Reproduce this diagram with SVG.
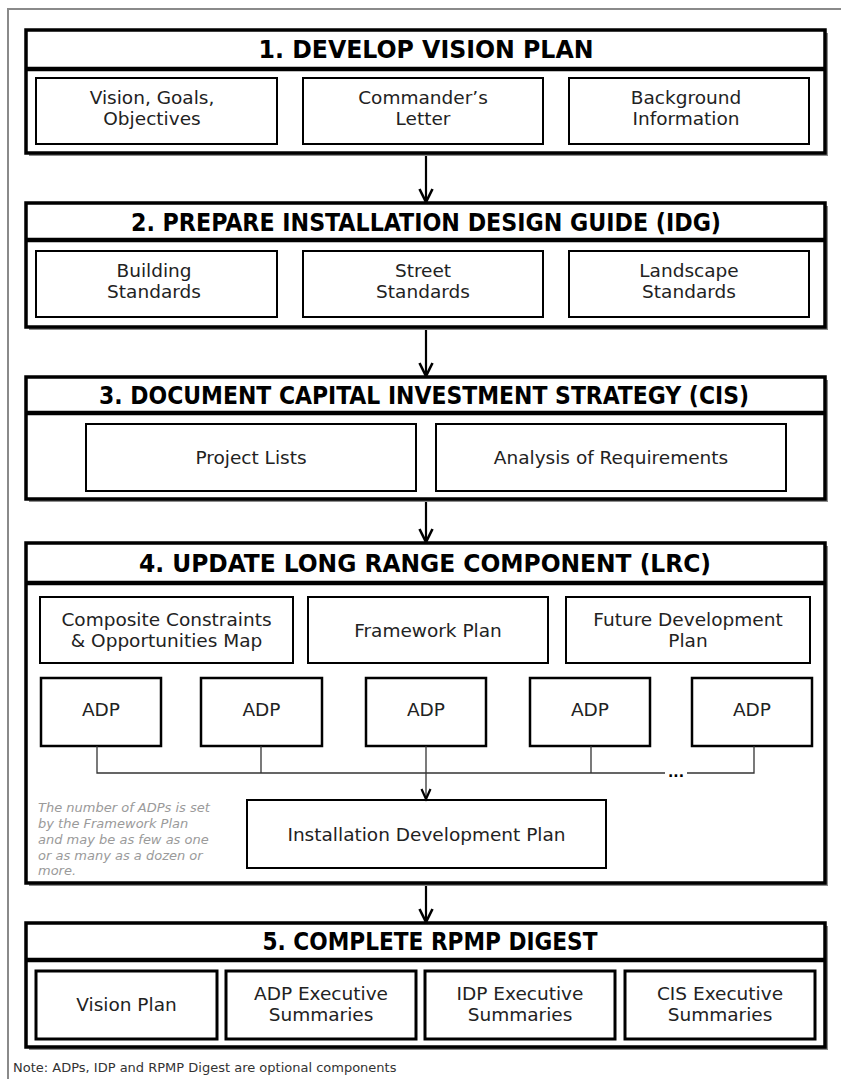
<svg xmlns="http://www.w3.org/2000/svg" width="841" height="1079" viewBox="0 0 841 1079">
<defs>
<style>
.frame{fill:none;stroke:#8a8a8a;stroke-width:2}
.shadow{fill:#8c8c8c}
.sec{fill:#fff;stroke:#000;stroke-width:3.5}
.sep{stroke:#000;stroke-width:4.5}
.sub{fill:#fff;stroke:#000;stroke-width:2}
.sub5{fill:#fff;stroke:#000;stroke-width:3}
.adp{fill:#fff;stroke:#000;stroke-width:2.5}
.hd{font-family:"Liberation Sans Narrow","DejaVu Sans Condensed","Liberation Sans",sans-serif;font-weight:bold;font-size:24px;fill:#000;text-anchor:middle}
.tx{font-family:"DejaVu Sans","Liberation Sans",sans-serif;font-size:18.5px;fill:#222;text-anchor:middle}
.note{font-family:"DejaVu Sans","Liberation Sans",sans-serif;font-style:italic;font-size:13px;fill:#9a9a9a}
.foot{font-family:"DejaVu Sans","Liberation Sans",sans-serif;font-size:13px;fill:#333}
.arr{fill:none;stroke:#000;stroke-width:2.2}
.thin{fill:none;stroke:#333;stroke-width:1.3}
.dots{font-family:"DejaVu Sans","Liberation Sans",sans-serif;font-size:14px;font-weight:bold;fill:#000;text-anchor:middle}
</style>
<marker id="vh" markerUnits="userSpaceOnUse" markerWidth="18" markerHeight="18" refX="14" refY="8" orient="auto">
<path d="M1,1.5 L14,8 L1,14.5" fill="none" stroke="#000" stroke-width="2.6"/>
</marker>
<marker id="vs" markerUnits="userSpaceOnUse" markerWidth="14" markerHeight="14" refX="11" refY="6" orient="auto">
<path d="M1,1.5 L11,6 L1,10.5" fill="none" stroke="#000" stroke-width="2.2"/>
</marker>
</defs>
<rect width="841" height="1079" fill="#fff"/>
<path class="frame" d="M8,1079 V9 H841"/>

<g id="connectors">
<line class="arr" x1="426" y1="155" x2="426" y2="202" marker-end="url(#vh)"/>
<line class="arr" x1="426" y1="329" x2="426" y2="376" marker-end="url(#vh)"/>
<line class="arr" x1="426" y1="501" x2="426" y2="542" marker-end="url(#vh)"/>
<line class="arr" x1="426" y1="885" x2="426" y2="922" marker-end="url(#vh)"/>
</g>

<g id="s1">
<rect class="shadow" x="29" y="33" width="799" height="123"/>
<rect class="sec" x="26" y="30" width="799" height="123"/>
<line class="sep" x1="26" y1="69" x2="825" y2="69"/>
<text class="hd" x="426" y="58" textLength="335" lengthAdjust="spacingAndGlyphs">1. DEVELOP VISION PLAN</text>
<g id="s1a"><rect class="sub" x="36" y="78" width="241" height="66"/><text class="tx" x="152" y="104">Vision, Goals,</text><text class="tx" x="152" y="125">Objectives</text></g>
<g id="s1b"><rect class="sub" x="303" y="78" width="240" height="66"/><text class="tx" x="423" y="104">Commander’s</text><text class="tx" x="423" y="125">Letter</text></g>
<g id="s1c"><rect class="sub" x="569" y="78" width="240" height="66"/><text class="tx" x="686" y="104">Background</text><text class="tx" x="686" y="125">Information</text></g>
</g>

<g id="s2">
<rect class="shadow" x="29" y="206" width="799" height="124"/>
<rect class="sec" x="26" y="203" width="799" height="124"/>
<line class="sep" x1="26" y1="240" x2="825" y2="240"/>
<text class="hd" x="426" y="231" textLength="590" lengthAdjust="spacingAndGlyphs">2. PREPARE INSTALLATION DESIGN GUIDE (IDG)</text>
<g id="s2a"><rect class="sub" x="36" y="251" width="241" height="66"/><text class="tx" x="154" y="277">Building</text><text class="tx" x="154" y="298">Standards</text></g>
<g id="s2b"><rect class="sub" x="303" y="251" width="240" height="66"/><text class="tx" x="423" y="277">Street</text><text class="tx" x="423" y="298">Standards</text></g>
<g id="s2c"><rect class="sub" x="569" y="251" width="240" height="66"/><text class="tx" x="689" y="277">Landscape</text><text class="tx" x="689" y="298">Standards</text></g>
</g>

<g id="s3">
<rect class="shadow" x="29" y="380" width="799" height="122"/>
<rect class="sec" x="26" y="377" width="799" height="122"/>
<line class="sep" x1="26" y1="413" x2="825" y2="413"/>
<text class="hd" x="424" y="404" textLength="650" lengthAdjust="spacingAndGlyphs">3. DOCUMENT CAPITAL INVESTMENT STRATEGY (CIS)</text>
<g id="s3a"><rect class="sub" x="86" y="424" width="330" height="67"/><text class="tx" x="251" y="464">Project Lists</text></g>
<g id="s3b"><rect class="sub" x="436" y="424" width="350" height="67"/><text class="tx" x="611" y="464">Analysis of Requirements</text></g>
</g>

<g id="s4">
<rect class="shadow" x="29" y="546" width="799" height="340"/>
<rect class="sec" x="26" y="543" width="799" height="340"/>
<line class="sep" x1="26" y1="583" x2="825" y2="583"/>
<text class="hd" x="425" y="572" textLength="572" lengthAdjust="spacingAndGlyphs">4. UPDATE LONG RANGE COMPONENT (LRC)</text>
<g id="s4a"><rect class="sub" x="40" y="597" width="253" height="66"/><text class="tx" x="166.5" y="626">Composite Constraints</text><text class="tx" x="166.5" y="647">&amp; Opportunities Map</text></g>
<g id="s4b"><rect class="sub" x="308" y="597" width="240" height="66"/><text class="tx" x="428" y="637">Framework Plan</text></g>
<g id="s4c"><rect class="sub" x="566" y="597" width="244" height="66"/><text class="tx" x="688" y="626">Future Development</text><text class="tx" x="688" y="647">Plan</text></g>
<g id="adp1"><rect class="adp" x="41" y="678" width="120" height="68"/><text class="tx" x="101" y="716">ADP</text></g>
<g id="adp2"><rect class="adp" x="201" y="678" width="121" height="68"/><text class="tx" x="261.5" y="716">ADP</text></g>
<g id="adp3"><rect class="adp" x="366" y="678" width="120" height="68"/><text class="tx" x="426" y="716">ADP</text></g>
<g id="adp4"><rect class="adp" x="530" y="678" width="120" height="68"/><text class="tx" x="590" y="716">ADP</text></g>
<g id="adp5"><rect class="adp" x="692" y="678" width="120" height="68"/><text class="tx" x="752" y="716">ADP</text></g>
<g id="idp"><rect class="sub" x="247" y="800" width="359" height="68"/><text class="tx" x="426.5" y="841">Installation Development Plan</text></g>
<text class="note"><tspan x="38" y="812">The number of ADPs is set</tspan><tspan x="38" y="828">by the Framework Plan</tspan><tspan x="38" y="844">and may be as few as one</tspan><tspan x="38" y="860">or as many as a dozen or</tspan><tspan x="38" y="875">more.</tspan></text>
</g>

<g id="adp-connectors">
<path class="thin" d="M97,746 V773 H665 M687,773 H754 V746 M261,746 V773 M591,746 V773"/>
<line class="thin" x1="426" y1="746" x2="426" y2="799" marker-end="url(#vs)"/>
<text class="dots" x="676" y="777">...</text>
</g>

<g id="s5">
<rect class="shadow" x="29" y="926" width="799" height="124"/>
<rect class="sec" x="26" y="923" width="799" height="124"/>
<line class="sep" x1="26" y1="960" x2="825" y2="960"/>
<text class="hd" x="430" y="950" textLength="335" lengthAdjust="spacingAndGlyphs">5. COMPLETE RPMP DIGEST</text>
<g id="s5a"><rect class="sub5" x="36" y="971" width="181" height="68"/><text class="tx" x="126.5" y="1011">Vision Plan</text></g>
<g id="s5b"><rect class="sub5" x="226" y="971" width="190" height="68"/><text class="tx" x="321" y="1000">ADP Executive</text><text class="tx" x="321" y="1021">Summaries</text></g>
<g id="s5c"><rect class="sub5" x="425" y="971" width="190" height="68"/><text class="tx" x="520" y="1000">IDP Executive</text><text class="tx" x="520" y="1021">Summaries</text></g>
<g id="s5d"><rect class="sub5" x="625" y="971" width="190" height="68"/><text class="tx" x="720" y="1000">CIS Executive</text><text class="tx" x="720" y="1021">Summaries</text></g>
</g>

<text class="foot" x="13" y="1072">Note:  ADPs, IDP and RPMP Digest are optional components</text>
</svg>
